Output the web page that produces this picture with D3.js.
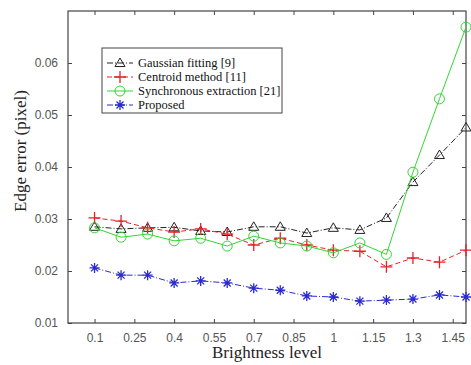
<!DOCTYPE html>
<html>
<head>
<meta charset="utf-8">
<script src="https://cdn.jsdelivr.net/npm/d3@7"></script>
<style>
  body { margin: 0; background: #fff; }
  .tick text { font-family: "Liberation Sans", Arial, sans-serif; font-size: 12px; fill: #555; }
</style>
</head>
<body>
<svg width="471" height="365"></svg>
<script>
var brightness = [0.1, 0.2, 0.3, 0.4, 0.5, 0.6, 0.7, 0.8, 0.9, 1.0, 1.1, 1.2, 1.3, 1.4, 1.5];
var gaussian  = [0.0285, 0.0281, 0.0283, 0.0284, 0.0277, 0.0275, 0.0285, 0.0285, 0.0273, 0.0283, 0.0279, 0.0302, 0.0371, 0.0423, 0.0476];
var centroid  = [0.0302, 0.0296, 0.0283, 0.0275, 0.0281, 0.0271, 0.0250, 0.0263, 0.0250, 0.0240, 0.0238, 0.0208, 0.0225, 0.0217, 0.0240];
var synchro   = [0.0283, 0.0265, 0.0271, 0.0258, 0.0263, 0.0248, 0.0267, 0.0254, 0.0248, 0.0235, 0.0254, 0.0232, 0.0390, 0.0531, 0.0669];
var proposed  = [0.0206, 0.0192, 0.0192, 0.0177, 0.0181, 0.0177, 0.0167, 0.0163, 0.0152, 0.0150, 0.0142, 0.0144, 0.0146, 0.0154, 0.0150];
var xTicks = [0.1, 0.25, 0.4, 0.55, 0.7, 0.85, 1, 1.15, 1.3, 1.45];
var yTicks = [0.01, 0.02, 0.03, 0.04, 0.05, 0.06];
var seriesNames = ["Gaussian fitting [9]", "Centroid method [11]", "Synchronous extraction [21]", "Proposed"];

var svg = d3.select("svg"),
    plotL = 68, plotR = 466, plotT = 11, plotB = 323;

var x = d3.scaleLinear().domain([0, 1.5]).range([plotL, plotR]);
var y = d3.scaleLinear().domain([0.01, 0.07]).range([plotB, plotT]);

var axisColor = "#444";

// box
svg.append("rect")
  .attr("x", plotL).attr("y", plotT)
  .attr("width", plotR - plotL).attr("height", plotB - plotT)
  .attr("fill", "none").attr("stroke", axisColor).attr("stroke-width", 1.2);

var fmt = function (d) { return String(d); };

var gx = svg.append("g").attr("transform", "translate(0," + plotB + ")")
  .call(d3.axisBottom(x).tickValues(xTicks).tickFormat(fmt).tickSizeInner(-4).tickSizeOuter(0).tickPadding(10));
var gxt = svg.append("g").attr("transform", "translate(0," + plotT + ")")
  .call(d3.axisTop(x).tickValues(xTicks).tickFormat("").tickSizeInner(-4).tickSizeOuter(0));
var gy = svg.append("g").attr("transform", "translate(" + plotL + ",0)")
  .call(d3.axisLeft(y).tickValues(yTicks).tickFormat(function (d) { return d.toFixed(2); }).tickSizeInner(-4).tickSizeOuter(0).tickPadding(10));
var gyr = svg.append("g").attr("transform", "translate(" + plotR + ",0)")
  .call(d3.axisRight(y).tickValues(yTicks).tickFormat("").tickSizeInner(-4).tickSizeOuter(0));
[gx, gxt, gy, gyr].forEach(function (g) {
  g.select(".domain").remove();
  g.selectAll(".tick line").attr("stroke", axisColor);
});

// axis titles
svg.append("text")
  .attr("transform", "translate(26,151) rotate(-90)")
  .attr("text-anchor", "middle")
  .attr("font-family", "Liberation Serif, Times New Roman, serif")
  .attr("font-size", 17).attr("fill", "#222")
  .text("Edge error (pixel)");
svg.append("text")
  .attr("x", (plotL + plotR) / 2).attr("y", 358)
  .attr("text-anchor", "middle")
  .attr("font-family", "Liberation Serif, Times New Roman, serif")
  .attr("font-size", 17).attr("fill", "#222")
  .text("Brightness level");

var series = [
  { name: seriesNames[0], values: gaussian, color: "#222", dash: "6,2,1,2", marker: "triangle" },
  { name: seriesNames[1], values: centroid, color: "#e8202a", dash: "5,3", marker: "plus" },
  { name: seriesNames[2], values: synchro, color: "#33d633", dash: null, marker: "circle" },
  { name: seriesNames[3], values: proposed, color: "#2a2ad0", dash: "6,2,1,2", marker: "star" }
];

function drawMarker(g, type, color) {
  if (type === "triangle") {
    g.append("path").attr("d", "M0,-5L5,3.5L-5,3.5Z").attr("fill", "none").attr("stroke", color).attr("stroke-width", 1);
  } else if (type === "plus") {
    g.append("path").attr("d", "M-6,0H6M0,-6V6").attr("stroke", color).attr("stroke-width", 1.3);
  } else if (type === "circle") {
    g.append("circle").attr("r", 5).attr("fill", "none").attr("stroke", color).attr("stroke-width", 1);
  } else {
    g.append("path").attr("d", "M-5,0H5M0,-5V5M-3.5,-3.5L3.5,3.5M-3.5,3.5L3.5,-3.5").attr("stroke", color).attr("stroke-width", 1.3);
  }
}

var line = d3.line().x(function (d) { return x(d[0]); }).y(function (d) { return y(d[1]); });

series.forEach(function (s) {
  var pts = brightness.map(function (b, i) { return [b, s.values[i]]; });
  svg.append("path").datum(pts)
    .attr("d", line)
    .attr("fill", "none").attr("stroke", s.color).attr("stroke-width", 1)
    .attr("stroke-dasharray", s.dash);
  pts.forEach(function (p) {
    var g = svg.append("g").attr("transform", "translate(" + x(p[0]) + "," + y(p[1]) + ")");
    drawMarker(g, s.marker, s.color);
  });
});

// legend
var lg = svg.append("g");
lg.append("rect").attr("x", 102).attr("y", 48).attr("width", 180).attr("height", 65)
  .attr("fill", "#fff").attr("stroke", axisColor).attr("stroke-width", 1);
series.forEach(function (s, i) {
  var yy = 63 + i * 14;
  lg.append("line").attr("x1", 107).attr("x2", 133).attr("y1", yy).attr("y2", yy)
    .attr("stroke", s.color).attr("stroke-width", 1).attr("stroke-dasharray", s.dash);
  var g = lg.append("g").attr("transform", "translate(120," + yy + ")");
  drawMarker(g, s.marker, s.color);
  lg.append("text").attr("x", 138).attr("y", yy + 4)
    .attr("font-family", "Liberation Serif, Times New Roman, serif")
    .attr("font-size", 12.5).attr("fill", "#111")
    .text(s.name);
});
</script>
</body>
</html>
